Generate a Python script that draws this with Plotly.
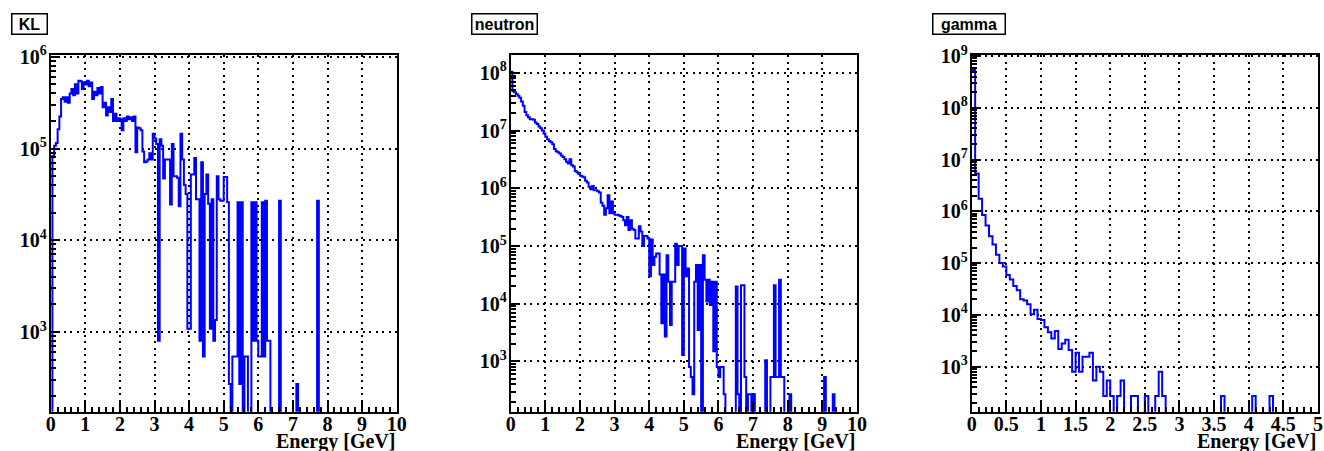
import numpy as np
import plotly.graph_objects as go

# ---------------- data (bin contents, 0.05 GeV bins) ----------------
KL_range = (0.0, 10.0)
KL_counts = [
    0, 83000, 107000, 115000, 162000, 224000, 347000, 363000, 324000, 363000,
    316000, 398000, 447000, 380000, 501000, 398000, 550000, 540000, 447000, 525000,
    500000, 550000, 478000, 525000, 347000, 417000, 380000, 457000, 398000, 468000,
    282000, 316000, 229000, 282000, 251000, 347000, 200000, 240000, 200000, 214000,
    209000, 158000, 214000, 200000, 224000, 209000, 219000, 200000, 224000, 91000,
    170000, 166000, 158000, 93000, 71000, 72000, 76000, 89000, 76000, 145000,
    129000, 112000, 800, 126000, 107000, 47000, 76000, 76000, 76000, 24500,
    112000, 50000, 50000, 48000, 23400, 145000, 76000, 40000, 32000, 1080,
    1080, 52000, 52000, 79000, 28000, 28000, 800, 71000, 540, 32000,
    52000, 25000, 1080, 28000, 800, 1350, 50000, 28000, 27000, 27000,
    49000, 49000, 26000, 270, 0, 540, 540, 540, 26000, 270,
    26000, 0, 540, 540, 0, 0, 26000, 800, 26000, 800,
    540, 540, 26000, 540, 27000, 800, 800, 0, 0, 0,
    0, 0, 27000, 0, 0, 0, 0, 0, 0, 0,
    0, 0, 270, 0, 0, 0, 0, 0, 0, 0,
    0, 0, 0, 0, 27000, 0, 0, 0, 0, 0,
    0, 0, 0, 0, 0, 0, 0, 0, 0, 0,
    0, 0, 0, 0, 0, 0, 0, 0, 0, 0,
    0, 0, 0, 0, 0, 0, 0, 0, 0, 0,
    0, 0, 0, 0, 0, 0, 0, 0, 0, 0,
]

neutron_range = (0.0, 10.0)
neutron_counts = [
    1.05e8, 4.8e7, 4.6e7, 4.3e7, 4.0e7, 3.7e7, 3.2e7, 2.7e7, 2.1e7, 1.85e7,
    1.7e7, 1.58e7, 1.58e7, 1.55e7, 1.38e7, 1.3e7, 1.18e7, 1.1e7, 1.0e7, 8.9e6,
    7.8e6, 7.1e6, 6.6e6, 6.3e6, 5.8e6, 4.8e6, 4.4e6, 4.2e6, 4.0e6, 3.7e6,
    3.5e6, 3.2e6, 2.9e6, 2.7e6, 3.2e6, 2.5e6, 2.4e6, 2.0e6, 1.9e6, 1.78e6,
    1.66e6, 1.6e6, 1.55e6, 1.35e6, 1.26e6, 1.07e6, 9.6e5, 1.1e6, 9.3e5, 9.3e5,
    8.9e5, 8.5e5, 5.6e5, 5.0e5, 3.5e5, 4.5e5, 7.6e5, 3.7e5, 5.9e5, 3.7e5,
    3.5e5, 3.5e5, 3.4e5, 3.3e5, 3.2e5, 2.8e5, 2.3e5, 3.2e5, 1.9e5, 2.8e5,
    2.0e5, 1.9e5, 1.35e5, 1.35e5, 2.2e5, 1.78e5, 1.0e5, 1.5e5, 1.5e5, 1.35e5,
    3.0e4, 1.3e5, 4.7e4, 6.5e4, 7.4e4, 7.4e4, 3.2e4, 4.6e3, 3.2e4, 2.7e3,
    6.9e4, 2.4e4, 4.3e3, 2.4e4, 2.4e4, 1.1e5, 4.7e4, 1.0e5, 1.0e5, 1.3e3,
    9.1e4, 3.0e4, 4.1e4, 800, 540, 270, 2.4e4, 4.7e4, 3.5e3, 4.7e4,
    0, 6.9e4, 2.6e4, 1.1e4, 2.6e4, 9.5e3, 2.4e4, 1.5e3, 2.4e4, 800,
    540, 800, 800, 270, 0, 0, 0, 0, 0, 0,
    2.0e4, 270, 0, 2.1e4, 2.1e4, 540, 0, 270, 270, 0,
    270, 0, 0, 0, 0, 0, 0, 1050, 0, 0,
    540, 540, 2.1e4, 540, 540, 2.6e4, 540, 540, 0, 0,
    0, 270, 0, 0, 0, 0, 0, 0, 0, 0,
    0, 0, 0, 0, 0, 0, 0, 0, 0, 0,
    0, 540, 0, 0, 0, 0, 270, 0, 0, 0,
    0, 0, 0, 0, 0, 0, 0, 0, 0, 0,
]

gamma_range = (0.0, 5.0)
gamma_counts = [
    5.4e8, 5.4e6, 1.75e6, 8.5e5, 5.3e5, 3.3e5, 2.3e5, 1.45e5, 1.0e5, 8.6e4,
    5.9e4, 4.8e4, 3.6e4, 3.0e4, 2.0e4, 1.9e4, 1.6e4, 1.03e4, 1.25e4, 8.3e3,
    8.0e3, 5.8e3, 4.6e3, 3.5e3, 4.9e3, 2.2e3, 2.8e3, 3.3e3, 2.1e3, 800,
    1860, 800, 1550, 1550, 1860, 540, 1000, 800, 270, 540,
    270, 0, 270, 540, 0, 0, 270, 270, 0, 0,
    270, 0, 0, 270, 800, 270, 0, 0, 0, 0,
    0, 0, 0, 0, 0, 0, 0, 0, 0, 0,
    0, 0, 270, 0, 0, 0, 0, 0, 0, 0,
    0, 270, 0, 0, 0, 0, 270, 0, 0, 0,
    0, 0, 0, 0, 0, 0, 0, 0, 0, 0,
]

titles = ["KL", "neutron", "gamma"]
x_title = "Energy [GeV]"

# y-axis (log10) ranges of each frame, and decade labels
y_log_ranges = [(2.13, 6.02), (2.13, 8.31), (2.13, 9.02)]
y_decades = [[3, 4, 5, 6], [3, 4, 5, 6, 7, 8], [3, 4, 5, 6, 7, 8, 9]]
x_major = [list(range(0, 11)), list(range(0, 11)), [0, 0.5, 1, 1.5, 2, 2.5, 3, 3.5, 4, 4.5, 5]]
x_major_text = [[str(v) for v in x_major[0]], [str(v) for v in x_major[1]],
                ["0", "0.5", "1", "1.5", "2", "2.5", "3", "3.5", "4", "4.5", "5"]]
x_minor_step = [0.2, 0.2, 0.1]

# ---------------- layout geometry ----------------
W, H = 1324, 451
x_dom_px = [(50.7, 396.7), (510.7, 857.0), (971.7, 1318.0)]
y_top_px, y_bot_px = 55.0, 411.7
y_dom = [(H - y_bot_px) / H, (H - y_top_px) / H]
title_box_left = [11, 471, 932]
title_box_width = [34, 64, 71]

FLOOR = 1.0  # empty bins are drawn down to the frame floor (like ROOT)

tick_font = dict(family="Liberation Serif", size=20, color="black", weight="bold")

fig = go.Figure()
datasets = [(KL_counts, KL_range), (neutron_counts, neutron_range), (gamma_counts, gamma_range)]

for i, (counts, (lo, hi)) in enumerate(datasets):
    n = len(counts)
    edges = np.linspace(lo, hi, n + 1)
    yv = [c if c > 0 else FLOOR for c in counts]
    yv = yv + [yv[-1]]
    sfx = "" if i == 0 else str(i + 1)
    fig.add_trace(go.Scatter(
        x=edges, y=yv, mode="lines", line=dict(color="#0000ff", width=2, shape="hv"),
        xaxis="x" + sfx, yaxis="y" + sfx, showlegend=False, hoverinfo="skip"))

    x0, x1 = x_dom_px[i]
    minor_x = [v for v in np.arange(lo, hi + 1e-9, x_minor_step[i])]
    dec = y_decades[i]
    lo_d, hi_d = y_log_ranges[i]
    minor_y = [k * 10 ** d for d in range(int(np.floor(lo_d)), int(np.ceil(hi_d)) + 1)
               for k in range(2, 10) if lo_d <= np.log10(k * 10 ** d) <= hi_d]
    xa = dict(
        domain=[x0 / W, x1 / W], range=[lo, hi], anchor="y" + sfx, automargin=False,
        showline=True, linewidth=2, linecolor="black", mirror=True,
        ticks="inside", ticklen=11, tickwidth=1.5, tickcolor="black",
        tickmode="array", tickvals=x_major[i], ticktext=x_major_text[i],
        tickfont=tick_font, ticklabelstandoff=-7,
        showgrid=True, gridcolor="black", gridwidth=1.5, griddash="2px,4.5px",
        minor=dict(tickmode="array", tickvals=minor_x, ticks="inside", ticklen=5,
                   tickwidth=1.5, tickcolor="black", showgrid=False),
        zeroline=False, fixedrange=True,
    )
    ya = dict(
        domain=y_dom, type="log", range=[lo_d, hi_d], anchor="x" + sfx, automargin=False,
        showline=True, linewidth=2, linecolor="black", mirror=True,
        ticks="inside", ticklen=9, tickwidth=1.5, tickcolor="black",
        tickmode="array", tickvals=[10 ** d for d in dec],
        ticktext=["10<sup>%d</sup>" % d for d in dec],
        tickfont=tick_font, ticklabelstandoff=-2,
        showgrid=True, gridcolor="black", gridwidth=1.5, griddash="2px,4.5px",
        minor=dict(tickmode="array", tickvals=minor_y, ticks="inside", ticklen=5,
                   tickwidth=1.5, tickcolor="black", showgrid=False),
        zeroline=False, fixedrange=True,
    )
    fig.update_layout(**{"xaxis" + sfx: xa, "yaxis" + sfx: ya})

    # histogram title box
    fig.add_annotation(
        text=titles[i], xref="paper", yref="paper",
        x=title_box_left[i] / W, y=1 - 13 / H, xanchor="left", yanchor="top",
        width=title_box_width[i], height=19, align="center", valign="middle",
        showarrow=False, bordercolor="black", borderwidth=1.5, borderpad=0,
        bgcolor="white",
        font=dict(family="Liberation Sans", size=16, color="black", weight="bold"))
    # x-axis title, right aligned at axis end
    fig.add_annotation(
        text=x_title, xref="paper", yref="paper",
        x=x1 / W, y=1 - 428 / H, xanchor="right", yanchor="top",
        showarrow=False,
        font=dict(family="Liberation Serif", size=20, color="black", weight="bold"))

fig.update_layout(
    width=W, height=H, autosize=False,
    margin=dict(l=0, r=0, t=0, b=0, autoexpand=False),
    paper_bgcolor="white", plot_bgcolor="white",
)

fig.write_html("out.html", config={"displayModeBar": False},
               post_script="document.body.style.margin='0px';document.body.style.padding='0px';")
